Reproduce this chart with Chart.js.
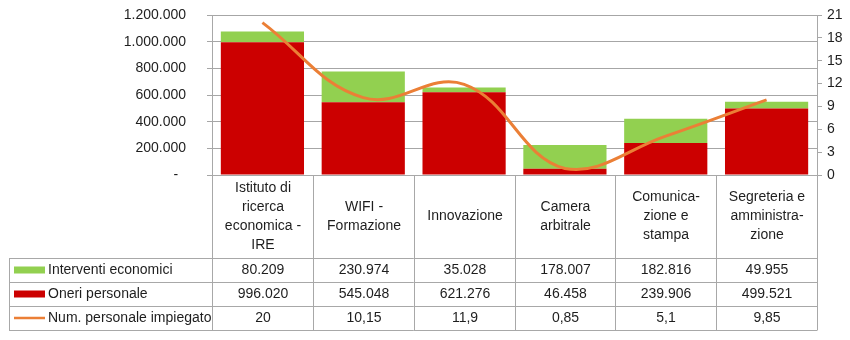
<!DOCTYPE html>
<html>
<head>
<meta charset="utf-8">
<script src="https://cdn.jsdelivr.net/npm/chart.js@4/dist/chart.umd.min.js"></script>
<style>
  html, body { margin: 0; padding: 0; background: #fff; }
  #wrap { width: 850px; height: 340px; }
</style>
</head>
<body>
<div id="wrap"><canvas id="c" width="850" height="340"></canvas></div>
<script>
// Categories (multi-line header labels of the data table)
const categories = [
  ["Istituto di", "ricerca", "economica -", "IRE"],
  ["WIFI -", "Formazione"],
  ["Innovazione"],
  ["Camera", "arbitrale"],
  ["Comunica-", "zione e", "stampa"],
  ["Segreteria e", "amministra-", "zione"]
];

// Series
const interventiEconomici = [80209, 230974, 35028, 178007, 182816, 49955];
const oneriPersonale = [996020, 545048, 621276, 46458, 239906, 499521];
const numPersonale = [20, 10.15, 11.9, 0.85, 5.1, 9.85];

// Axis ranges
const euroMax = 1200000;
const euroStep = 200000;
const staffMax = 21;
const staffStep = 3;

const seriesNames = {
  interventi: "Interventi economici",
  oneri: "Oneri personale",
  staff: "Num. personale impiegato"
};

const COLORS = {
  green: "#92D050",
  red: "#CC0000",
  orange: "#EB7F36",
  grid: "#A6A6A6",
  border: "#A8A8A8",
  text: "#1E1E1E"
};
const FONT_FAMILY = '"Liberation Sans", Arial, sans-serif';
const FONT_SIZE = 14;

// Italian number formatting: dot thousands separator, comma decimals
function fmtIt(v) {
  const neg = v < 0;
  v = Math.abs(v);
  let [intPart, dec] = String(v).split(".");
  intPart = intPart.replace(/\B(?=(\d{3})+(?!\d))/g, ".");
  return (neg ? "-" : "") + intPart + (dec ? "," + dec : "");
}

// Data table drawn under the plot, aligned to the category scale
const dataTable = {
  id: "dataTable",
  afterDraw(chart) {
    const { ctx, chartArea, scales } = chart;
    const x = scales.x;
    const n = chart.data.labels.length;
    const top = chartArea.bottom;
    const headerH = 83;
    const rowH = 24;
    const tableLeft = 9;
    const lineH = 19;

    const bounds = [];
    for (let i = 0; i <= n; i++) bounds.push(Math.round(x.getPixelForValue(i - 0.5)) + 0.5);
    const rowsTop = top + headerH;
    const bottom = rowsTop + rowH * 3;

    ctx.save();
    ctx.strokeStyle = COLORS.border;
    ctx.lineWidth = 1;
    ctx.beginPath();
    // vertical category separators
    bounds.forEach(bx => { ctx.moveTo(bx, top); ctx.lineTo(bx, bottom); });
    // left edge of legend column
    ctx.moveTo(tableLeft + 0.5, rowsTop); ctx.lineTo(tableLeft + 0.5, bottom);
    // horizontal row lines
    for (let r = 0; r <= 3; r++) {
      const y = Math.round(rowsTop + r * rowH) + 0.5;
      ctx.moveTo(tableLeft, y); ctx.lineTo(bounds[n], y);
    }
    ctx.stroke();

    ctx.fillStyle = COLORS.text;
    ctx.font = FONT_SIZE + "px " + FONT_FAMILY;
    ctx.textAlign = "center";
    ctx.textBaseline = "middle";

    // header: category names
    chart.data.labels.forEach((lab, i) => {
      const lines = Array.isArray(lab) ? lab : [lab];
      const cx = (bounds[i] + bounds[i + 1]) / 2;
      const y0 = top + (headerH - lines.length * lineH) / 2 + lineH / 2;
      lines.forEach((t, k) => ctx.fillText(t, cx, y0 + k * lineH));
    });

    // rows: legend key + values
    const ds = chart.data.datasets;
    const byName = name => ds.find(d => d.label === name);
    const rows = [
      { set: byName(seriesNames.interventi), kind: "box" },
      { set: byName(seriesNames.oneri), kind: "box" },
      { set: byName(seriesNames.staff), kind: "line" }
    ];
    rows.forEach((row, r) => {
      const cy = rowsTop + r * rowH + rowH / 2;
      // legend key
      if (row.kind === "box") {
        ctx.fillStyle = row.set.backgroundColor;
        ctx.fillRect(14, cy - 3.5, 31, 7);
      } else {
        ctx.strokeStyle = row.set.borderColor;
        ctx.lineWidth = 2.5;
        ctx.beginPath();
        ctx.moveTo(14, cy); ctx.lineTo(45, cy);
        ctx.stroke();
      }
      ctx.fillStyle = COLORS.text;
      ctx.textAlign = "left";
      ctx.fillText(row.set.label, 48, cy + 0.5);
      ctx.textAlign = "center";
      row.set.data.forEach((v, i) => {
        const cx = (bounds[i] + bounds[i + 1]) / 2;
        ctx.fillText(fmtIt(v), cx, cy + 0.5);
      });
    });
    ctx.restore();
  }
};

// keep the plot area at a fixed position: fixed axis sizes, no label overhang
function fixVertical(width) {
  return s => { s.width = width; s.paddingTop = 0; s.paddingBottom = 0; };
}

new Chart(document.getElementById("c"), {
  data: {
    labels: categories,
    datasets: [
      {
        type: "line",
        label: seriesNames.staff,
        data: numPersonale,
        yAxisID: "y1",
        borderColor: COLORS.orange,
        backgroundColor: COLORS.orange,
        borderWidth: 3,
        tension: 0.4,
        pointRadius: 0,
        fill: false,
        order: 0
      },
      {
        type: "bar",
        label: seriesNames.oneri,
        data: oneriPersonale,
        yAxisID: "y",
        backgroundColor: COLORS.red,
        barPercentage: 0.825,
        categoryPercentage: 1,
        stack: "euro",
        order: 1
      },
      {
        type: "bar",
        label: seriesNames.interventi,
        data: interventiEconomici,
        yAxisID: "y",
        backgroundColor: COLORS.green,
        barPercentage: 0.825,
        categoryPercentage: 1,
        stack: "euro",
        order: 2
      }
    ]
  },
  options: {
    responsive: false,
    animation: false,
    devicePixelRatio: 1,
    layout: { padding: { top: 15, left: 0, right: 0, bottom: 0 } },
    plugins: {
      legend: { display: false },
      tooltip: { enabled: false }
    },
    scales: {
      x: {
        stacked: true,
        offset: true,
        grid: { display: false },
        border: { display: true, color: COLORS.border },
        ticks: { display: false },
        afterFit(s) { s.height = 165; }
      },
      y: {
        position: "left",
        stacked: true,
        min: 0,
        max: euroMax,
        grid: { color: COLORS.grid, tickLength: 5, drawTicks: true },
        border: { display: true, color: COLORS.border },
        ticks: {
          stepSize: euroStep,
          autoSkip: false,
          padding: 21,
          color: COLORS.text,
          font: { family: FONT_FAMILY, size: FONT_SIZE },
          callback: v => (v === 0 ? "-  " : fmtIt(v))
        },
        afterFit: fixVertical(212)
      },
      y1: {
        position: "right",
        min: 0,
        max: staffMax,
        grid: { drawOnChartArea: false, color: COLORS.grid, tickLength: 5 },
        border: { display: true, color: COLORS.border },
        ticks: {
          stepSize: staffStep,
          autoSkip: false,
          padding: 5,
          color: COLORS.text,
          font: { family: FONT_FAMILY, size: FONT_SIZE }
        },
        afterFit: fixVertical(33)
      }
    }
  },
  plugins: [dataTable]
});
</script>
</body>
</html>
